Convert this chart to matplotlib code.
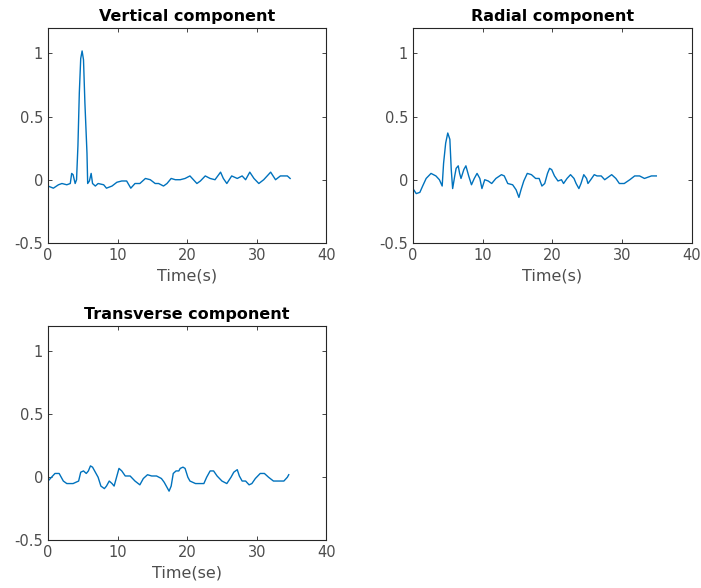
import matplotlib.pyplot as plt

# Vertical component trace
t_vert = [0, 0.77, 1.5, 2.0, 2.7, 3.2, 3.4, 3.6, 3.9, 4.1, 4.3, 4.5, 4.7, 4.9, 5.1, 5.3,
          5.6, 5.7, 5.95, 6.2, 6.4, 6.8, 7.2, 8.0, 8.4, 9.2, 9.9, 10.6, 11.3, 11.9, 12.5,
          13.2, 14.0, 14.7, 15.4, 15.9, 16.6, 17.1, 17.7, 18.3, 19.0, 19.7, 20.4, 20.9,
          21.4, 21.9, 22.6, 23.3, 24.0, 24.8, 25.2, 25.7, 26.4, 27.2, 27.9, 28.4, 29.0,
          29.6, 30.3, 31.0, 32.0, 32.7, 33.4, 34.4, 34.8]
v_vert = [-0.05, -0.067, -0.04, -0.03, -0.04, -0.03, 0.05, 0.04, -0.03, 0.0, 0.27, 0.69,
          0.96, 1.02, 0.95, 0.61, 0.21, -0.03, -0.01, 0.05, -0.03, -0.05, -0.03, -0.04,
          -0.067, -0.05, -0.02, -0.01, -0.01, -0.067, -0.03, -0.03, 0.01, 0.0, -0.03,
          -0.03, -0.05, -0.03, 0.01, 0.0, 0.0, 0.01, 0.03, 0.0, -0.03, -0.01, 0.03, 0.01,
          0.0, 0.06, 0.01, -0.03, 0.03, 0.01, 0.03, 0.0, 0.06, 0.01, -0.03, 0.0, 0.06,
          0.0, 0.03, 0.03, 0.01]

# Radial component trace
t_rad = [0, 0.48, 1.0, 1.4, 1.9, 2.6, 3.3, 3.8, 4.2, 4.4, 4.7, 5.0, 5.3, 5.5, 5.7, 6.0,
         6.2, 6.5, 6.7, 6.9, 7.3, 7.6, 8.0, 8.4, 8.8, 9.2, 9.6, 9.9, 10.3, 10.8, 11.3,
         11.9, 12.7, 13.1, 13.6, 14.3, 14.8, 15.2, 15.5, 15.9, 16.4, 17.0, 17.6, 18.1,
         18.5, 18.9, 19.3, 19.6, 19.9, 20.3, 20.8, 21.3, 21.6, 22.1, 22.6, 23.1, 23.4,
         23.8, 24.1, 24.5, 24.9, 25.1, 25.5, 26.0, 26.4, 27.0, 27.5, 28.0, 28.5, 29.1,
         29.6, 30.3, 31.1, 31.8, 32.5, 33.2, 34.2, 34.9]
v_rad = [-0.07, -0.11, -0.10, -0.05, 0.01, 0.05, 0.03, 0.0, -0.05, 0.13, 0.29, 0.37,
         0.32, 0.08, -0.07, 0.03, 0.09, 0.11, 0.05, 0.01, 0.08, 0.11, 0.03, -0.04, 0.01,
         0.05, 0.01, -0.07, 0.0, -0.01, -0.03, 0.01, 0.04, 0.03, -0.03, -0.04, -0.08,
         -0.14, -0.08, -0.01, 0.05, 0.04, 0.01, 0.01, -0.05, -0.03, 0.05, 0.09, 0.08,
         0.03, -0.01, 0.0, -0.03, 0.01, 0.04, 0.01, -0.03, -0.07, -0.03, 0.04, 0.01,
         -0.03, 0.0, 0.04, 0.03, 0.03, 0.0, 0.02, 0.04, 0.01, -0.03, -0.03, 0.0, 0.03,
         0.03, 0.01, 0.03, 0.03]

# Transverse component trace
t_trans = [0, 0.5, 1.0, 1.6, 2.2, 2.7, 3.6, 4.4, 4.7, 5.1, 5.5, 5.8, 6.1, 6.4, 6.8,
           7.2, 7.6, 8.1, 8.4, 8.8, 9.2, 9.5, 9.9, 10.2, 10.6, 11.1, 11.8, 12.5, 13.2,
           13.7, 14.3, 14.9, 15.6, 16.3, 16.7, 17.1, 17.4, 17.7, 18.0, 18.4, 18.8, 19.0,
           19.4, 19.7, 20.1, 20.4, 21.2, 22.4, 22.8, 23.3, 23.8, 24.3, 25.0, 25.7, 26.3,
           26.7, 27.2, 27.5, 27.9, 28.4, 28.9, 29.3, 29.8, 30.5, 31.1, 31.7, 32.4, 33.2,
           33.9, 34.4, 34.6]
v_trans = [-0.03, 0.0, 0.03, 0.03, -0.03, -0.05, -0.05, -0.03, 0.04, 0.05, 0.03, 0.05,
           0.09, 0.08, 0.04, 0.0, -0.07, -0.09, -0.07, -0.03, -0.05, -0.07, 0.01, 0.07,
           0.05, 0.01, 0.01, -0.03, -0.06, -0.01, 0.02, 0.01, 0.01, -0.01, -0.04, -0.08,
           -0.11, -0.07, 0.03, 0.05, 0.05, 0.07, 0.08, 0.07, 0.0, -0.03, -0.05, -0.05,
           0.0, 0.05, 0.05, 0.01, -0.03, -0.05, 0.0, 0.04, 0.06, 0.01, -0.03, -0.03,
           -0.06, -0.05, -0.01, 0.03, 0.03, 0.0, -0.03, -0.03, -0.03, 0.0, 0.02]

titles = ["Vertical component", "Radial component", "Transverse component"]
xlabels = ["Time(s)", "Time(s)", "Time(se)"]
x_ticks = [0, 10, 20, 30, 40]
y_ticks = [-0.5, 0, 0.5, 1]
y_tick_labels = ["-0.5", "0", "0.5", "1"]

# axes rectangles: left, bottom, width, height (figure fraction)
positions = [
    [0.0685, 0.587, 0.397, 0.365],
    [0.589, 0.587, 0.398, 0.365],
    [0.0685, 0.081, 0.397, 0.365],
]

fig = plt.figure(figsize=(7.01, 5.88), dpi=100)

traces = [(t_vert, v_vert), (t_rad, v_rad), (t_trans, v_trans)]
for pos, (t, v), title, xlab in zip(positions, traces, titles, xlabels):
    ax = fig.add_axes(pos)
    ax.plot(t, v, color="#0072BD", linewidth=1.0)
    ax.set_xlim(0, 40)
    ax.set_ylim(-0.5, 1.2)
    ax.set_xticks(x_ticks)
    ax.set_yticks(y_ticks)
    ax.set_yticklabels(y_tick_labels)
    ax.tick_params(direction="in", top=True, right=True, length=3, width=0.6,
                   labelsize=10.5, colors="#262626", labelcolor="#4d4d4d", pad=3.5)
    for s in ax.spines.values():
        s.set_linewidth(0.8)
        s.set_color("#262626")
    ax.set_title(title, fontsize=11.5, fontweight="bold", pad=5)
    ax.set_xlabel(xlab, fontsize=11.5, color="#4d4d4d", labelpad=4)

fig.savefig("out.png", dpi=100)
